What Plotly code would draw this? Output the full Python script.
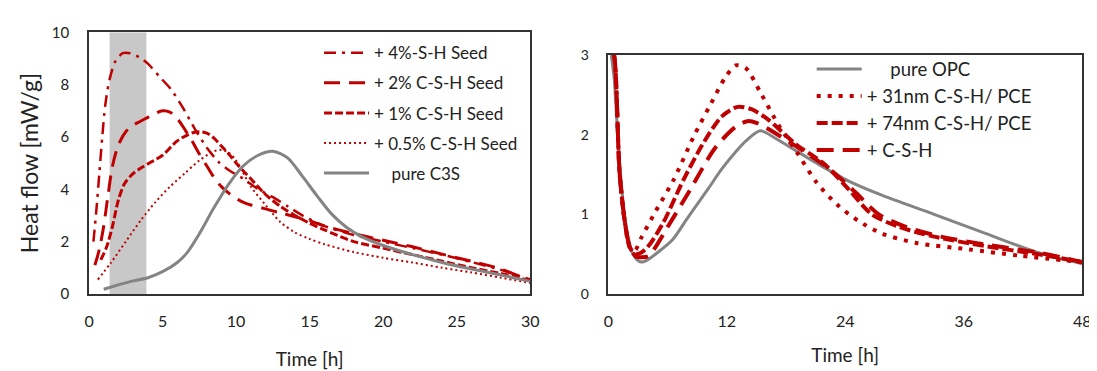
import plotly.graph_objects as go

# ---------------- Left panel data (C3S + C-S-H seeds) ----------------
c3s_t = [1.0, 2.0, 3.0, 4.0, 5.0, 6.0, 6.7, 7.5, 8.5, 9.5, 10.5, 11.5, 12.5, 13.5, 14.5, 15.5,
         16.5, 17.5, 18.5, 20, 22, 24, 26, 28, 30]
c3s_q = [0.18, 0.35, 0.5, 0.62, 0.85, 1.2, 1.6, 2.3, 3.3, 4.2, 4.9, 5.3, 5.45, 5.2, 4.5, 3.75,
         3.05, 2.55, 2.2, 1.85, 1.5, 1.2, 0.95, 0.72, 0.48]

s4_t = [0.3, 0.5, 0.7, 0.9, 1.1, 1.4, 1.8, 2.3, 2.8, 3.4, 4.0, 4.8, 5.6, 6.4, 7.2, 8.0, 8.8,
        9.6, 10.5, 11.5, 12.5, 13.5, 14.5, 16, 18, 20, 22, 24, 26, 28, 30]
s4_q = [2.0, 3.2, 4.6, 6.0, 7.2, 8.2, 8.9, 9.2, 9.2, 9.05, 8.8, 8.3, 7.8, 7.1, 6.3, 5.6, 5.05,
        4.7, 4.4, 4.0, 3.7, 3.35, 3.0, 2.6, 2.25, 2.0, 1.75, 1.5, 1.22, 0.92, 0.55]

s2_t = [0.4, 0.7, 1.0, 1.3, 1.6, 2.0, 2.5, 3.0, 3.5, 4.0, 4.5, 5.0, 5.5, 6.0, 6.5, 7.0, 7.5,
        8.0, 8.5, 9.0, 9.5, 10, 10.5, 11, 12, 13, 14, 15, 16, 18, 20, 22, 24, 26, 28, 30]
s2_q = [1.1, 1.7, 2.6, 3.8, 4.9, 5.7, 6.2, 6.45, 6.6, 6.75, 6.9, 7.0, 6.95, 6.7, 6.3, 5.85, 5.35,
        4.9, 4.45, 4.1, 3.85, 3.65, 3.5, 3.4, 3.25, 3.1, 2.95, 2.8, 2.6, 2.3, 2.05, 1.8, 1.52,
        1.25, 0.95, 0.5]

s1_t = [0.8, 1.2, 1.6, 2.0, 2.4, 2.9, 3.5, 4.0, 5.0, 6.0, 7.0, 7.5, 8.0, 8.5, 9.0, 9.5, 10,
        11, 12, 13, 14, 15, 16, 18, 20, 22, 24, 26, 28, 30]
s1_q = [1.3, 1.8, 2.6, 3.6, 4.2, 4.55, 4.8, 4.97, 5.3, 5.85, 6.15, 6.2, 6.15, 5.95, 5.65, 5.35,
        5.0, 4.4, 3.8, 3.35, 3.0, 2.7, 2.45, 2.0, 1.75, 1.5, 1.25, 1.0, 0.78, 0.5]

s05_t = [0.6, 1.5, 2.5, 3.5, 4.5, 5.5, 6.5, 7.5, 8.5, 9.0, 9.5, 10, 10.5, 11, 12, 13, 14, 15,
         16, 18, 20, 22, 24, 26, 28, 30]
s05_q = [0.55, 1.2, 2.0, 2.8, 3.5, 4.1, 4.6, 5.1, 5.45, 5.5, 5.4, 5.1, 4.6, 4.1, 3.4, 2.75,
         2.35, 2.1, 1.9, 1.6, 1.38, 1.2, 1.0, 0.82, 0.62, 0.42]

band_start, band_end = 1.4, 3.9

# ---------------- Right panel data (OPC) ----------------
opc_t = [0.3, 0.6, 1.0, 1.5, 2.0, 2.5, 3.0, 3.4, 4.0, 5.0, 6.5, 8.0, 10.0, 11.5, 13.0, 14.0,
         15.4, 17.0, 19.0, 21.0, 24.3, 27.7, 33.0, 38.2, 43.5, 48.0]
opc_q = [3.0, 2.7, 1.9, 1.15, 0.72, 0.5, 0.42, 0.4, 0.43, 0.52, 0.68, 0.95, 1.3, 1.57, 1.8,
         1.93, 2.05, 1.95, 1.8, 1.65, 1.42, 1.24, 1.0, 0.76, 0.52, 0.38]

n31_t = [0.3, 0.6, 1.15, 1.7, 2.2, 2.7, 3.4, 4.8, 6.6, 8.7, 10.4, 11.8, 12.9, 13.9, 15.5, 17.3,
         19.0, 21.1, 23.2, 25.3, 27.7, 31.2, 36.5, 41.7, 48.0]
n31_q = [3.1, 2.99, 1.51, 0.88, 0.58, 0.55, 0.72, 1.04, 1.43, 1.99, 2.39, 2.71, 2.87, 2.84,
         2.51, 2.11, 1.8, 1.4, 1.12, 0.92, 0.76, 0.64, 0.56, 0.48, 0.4]

n74_t = [0.3, 0.6, 1.15, 1.7, 2.2, 2.8, 3.77, 5.5, 7.6, 9.7, 11.5, 13.1, 14.5, 16.2, 19.0, 21.8,
         24.3, 26.7, 29.5, 33.0, 38.2, 43.5, 48.0]
n74_q = [3.1, 2.99, 1.51, 0.88, 0.58, 0.5, 0.56, 0.88, 1.43, 1.91, 2.23, 2.35, 2.32, 2.19,
         1.88, 1.64, 1.32, 1.0, 0.84, 0.72, 0.6, 0.5, 0.4]

csh_t = [0.3, 0.6, 1.15, 1.7, 2.2, 2.8, 3.4, 4.1, 6.2, 8.3, 10.8, 12.9, 14.1, 15.0, 17.3, 19.7,
         22.5, 25.0, 27.4, 30.2, 33.7, 38.2, 43.5, 48.0]
csh_q = [3.1, 2.99, 1.51, 0.88, 0.58, 0.47, 0.46, 0.48, 0.88, 1.31, 1.83, 2.1, 2.17, 2.15,
         1.99, 1.8, 1.56, 1.28, 1.0, 0.84, 0.72, 0.62, 0.52, 0.4]

RED = "#C00000"
GRAY = "#848484"
FONT = "Lato"
TXT = "#222222"

fig = go.Figure()

def add(x, y, name, color, width, dash, xa, ya, legend, group):
    fig.add_trace(go.Scatter(
        x=x, y=y, mode="lines", name=name, xaxis=xa, yaxis=ya,
        line=dict(color=color, width=width, dash=dash, shape="spline", smoothing=0.8),
        legend=legend, legendgroup=group, showlegend=True))

add(s4_t, s4_q, "+ 4%-S-H Seed", RED, 2.5, "12px,6px,3px,6px", "x", "y", "legend", "a")
add(s2_t, s2_q, "+ 2% C-S-H Seed", RED, 3, "16px,9px", "x", "y", "legend", "b")
add(s1_t, s1_q, "+ 1% C-S-H Seed", RED, 3, "8px,3px", "x", "y", "legend", "c")
add(s05_t, s05_q, "+ 0.5% C-S-H Seed", RED, 2, "2px,3px", "x", "y", "legend", "d")
add(c3s_t, c3s_q, "    pure C3S", GRAY, 3, "solid", "x", "y", "legend", "e")

add(opc_t, opc_q, "     pure OPC", GRAY, 3, "solid", "x2", "y2", "legend2", "f")
add(n31_t, n31_q, "+ 31nm C-S-H/ PCE", RED, 4, "4px,7px", "x2", "y2", "legend2", "g")
add(n74_t, n74_q, "+ 74nm C-S-H/ PCE", RED, 4, "11px,4px", "x2", "y2", "legend2", "h")
add(csh_t, csh_q, "+ C-S-H", RED, 4, "17px,9px", "x2", "y2", "legend2", "i")

fig.add_shape(type="rect", xref="x", yref="y", x0=band_start, x1=band_end, y0=0, y1=10,
              fillcolor="#C8C8C8", line_width=0, layer="below")

W, H = 1097, 371
base = dict(showline=True, mirror=True, linecolor="#333333", linewidth=1.5,
            showgrid=False, zeroline=False, ticks="")

def tf(size):
    return dict(family=FONT, size=size, color=TXT)

fig.update_layout(
    width=W, height=H, margin=dict(l=0, r=0, t=0, b=0),
    paper_bgcolor="white", plot_bgcolor="white",
    font=dict(family=FONT, color=TXT),
    xaxis=dict(domain=[77 / W, 524 / W], range=[0, 30], dtick=5, anchor="y",
               title=dict(text="Time [h]", font=dict(size=19), standoff=24),
               tickfont=tf(16), ticklabelstandoff=12, **base),
    yaxis=dict(domain=[1 - 290 / H, 1 - 15 / H], range=[0, 10], dtick=2, anchor="x",
               title=dict(text="Heat flow [mW/g]", font=dict(size=23), standoff=7),
               tickfont=tf(15), ticklabelstandoff=15, **base),
    xaxis2=dict(domain=[603 / W, 1083 / W], range=[0, 48], dtick=12, anchor="y2",
                title=dict(text="Time [h]", font=dict(size=19), standoff=20),
                tickfont=tf(16), ticklabelstandoff=12, **base),
    yaxis2=dict(domain=[1 - 290 / H, 1 - 39 / H], range=[0, 3], dtick=1, anchor="x2",
                tickfont=tf(14), ticklabelstandoff=15, **base),
    legend=dict(x=310 / W, y=1 - 18 / H, xanchor="left", yanchor="top",
                bgcolor="rgba(0,0,0,0)", font=tf(17),
                tracegroupgap=5, itemwidth=45),
    legend2=dict(x=809 / W, y=1 - 34 / H, xanchor="left", yanchor="top",
                 bgcolor="rgba(0,0,0,0)", font=tf(18.5),
                 tracegroupgap=0, itemwidth=45),
    showlegend=True,
)

fig.write_html("out.html")
